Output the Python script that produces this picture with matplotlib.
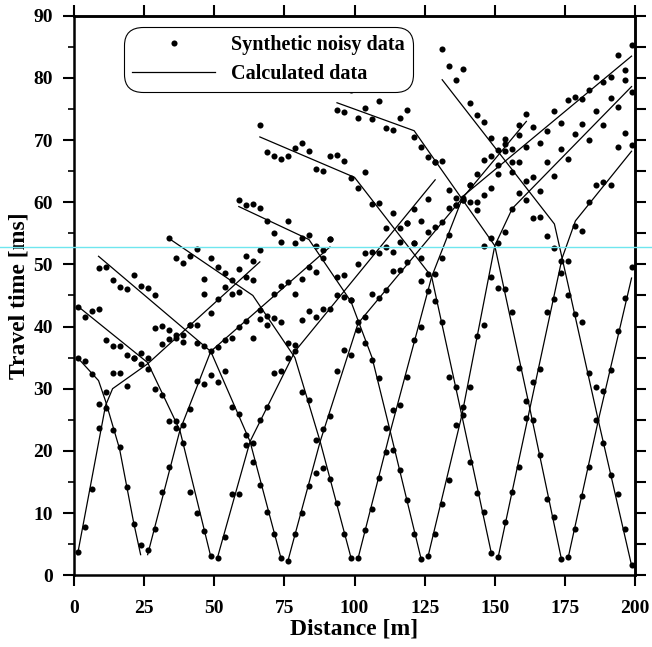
import numpy as np
import matplotlib
matplotlib.use('Agg')
import matplotlib.pyplot as plt
from matplotlib.lines import Line2D
from matplotlib.ticker import MultipleLocator, NullFormatter

plt.rcParams['font.family'] = ['Liberation Serif', 'DejaVu Serif']
plt.rcParams['font.weight'] = 'bold'
plt.rcParams['axes.labelweight'] = 'bold'

SPACING = 2.5  # geophone interval [m]

# picked first arrivals per shot branch: (first geophone [m], times [ms])
noisy_s000_fwd = (1.25, [3.8, 7.8, 13.9, 23.7, 29.4, 32.5, 32.5, 30.4, 34.9, 35.7, 33.2, 39.7, 37.2, 38.0,
                         38.1, 37.5, 40.3, 37.4, 45.3, 42.1, 44.4, 46.4, 45.2, 45.5, 51.3, 50.5, 52.3])
noisy_s025_rev = (1.25, [35.0, 34.4, 32.3, 27.6, 26.9, 23.3, 20.7, 14.2, 8.2, 4.8])
noisy_s025_fwd = (26.25, [4.0, 7.5, 13.4, 17.4, 23.6, 24.1, 26.8, 31.2, 30.7, 32.2, 36.7, 37.8, 38.1, 40.0,
                          40.9, 38.1, 42.6, 40.2, 45.2, 46.6, 47.2, 45.2, 47.7, 49.6, 48.8, 52.3, 54.1])
noisy_s050_rev = (1.25, [43.2, 41.6, 42.5, 42.8, 37.9, 36.9, 36.9, 35.4, 34.9, 34.0, 35.0, 29.9, 29.0, 24.8,
                         24.8, 21.2, 13.4, 10.0, 7.1, 3.1])
noisy_s050_fwd = (51.25, [2.8, 6.1, 13.0, 13.0, 20.9, 21.2, 24.9, 27.1, 32.6, 32.8, 37.4, 37.0, 41.0, 42.5,
                          41.6, 42.9, 42.9, 45.1, 44.8, 44.3, 50.0, 51.9, 52.0, 51.9, 52.8, 52.0, 55.9, 56.6,
                          58.9, 57.0, 60.5, 66.5])
noisy_s075_rev = (8.75, [49.4, 49.6, 47.5, 46.3, 46.0, 48.3, 46.5, 46.2, 45.1, 40.1, 39.4, 38.6, 38.6, 40.3,
                         40.3, 36.9, 36.1, 31.0, 32.8, 27.1, 26.0, 22.5, 18.2, 14.5, 10.1, 6.7, 2.8])
noisy_s075_fwd = (76.25, [2.3, 6.7, 10.0, 14.4, 16.5, 23.5, 25.6, 32.8, 36.2, 35.4, 40.8, 41.5, 45.3, 44.6,
                          45.9, 49.0, 49.1, 50.4, 53.5, 51.0, 55.2, 56.0, 56.8, 59.0, 59.5, 60.4, 62.8, 64.5,
                          61.2, 67.5, 66.0, 70.2, 68.5, 72.5, 74.2])
noisy_s100_rev = (33.75, [54.3, 51.0, 50.2, 51.4, 52.5, 47.7, 51.0, 49.5, 48.6, 47.5, 49.2, 47.9, 47.5, 41.2,
                          41.7, 41.3, 40.7, 35.0, 36.1, 29.5, 28.2, 21.7, 17.3, 15.5, 11.6, 6.7, 2.8])
noisy_s100_fwd = (101.25, [2.7, 7.2, 10.6, 15.7, 19.8, 26.6, 27.4, 31.9, 37.9, 39.9, 45.7, 48.4, 51.0, 54.8,
                           59.5, 60.6, 62.8, 60.0, 66.8, 62.3, 64.5, 68.2, 66.5, 70.8, 68.9, 72.1, 69.5, 71.5,
                           74.6, 72.8, 76.4, 77.0, 76.6, 78.1, 80.2, 79.4, 80.1, 83.7, 81.2, 85.3])
noisy_s125_rev = (58.75, [60.4, 59.5, 59.7, 59.1, 56.9, 55.0, 53.6, 57.0, 53.5, 54.2, 54.8, 53.0, 51.0, 54.1,
                          48.0, 48.3, 44.3, 39.5, 37.4, 34.6, 31.8, 23.7, 20.2, 17.0, 12.1, 6.7, 2.6])
noisy_s125_fwd = (126.25, [3.1, 6.7, 11.4, 15.3, 24.1, 25.8, 30.2, 38.4, 40.3, 47.9, 53.5, 55.2, 58.9, 61.5,
                           60.4, 64.0, 61.8, 66.5, 64.2, 68.6, 67.0, 70.9, 72.6, 70.0, 74.6, 72.5, 76.8, 75.3,
                           79.6, 77.8])
noisy_s150_rev = (66.25, [72.4, 68.0, 67.5, 67.0, 67.5, 68.7, 69.6, 68.3, 65.3, 65.0, 67.5, 67.6, 66.6, 63.9,
                          62.3, 64.9, 59.7, 59.8, 55.9, 58.2, 53.6, 56.6, 53.5, 47.3, 48.4, 44.1, 40.8, 31.9,
                          30.2, 27.1, 18.2, 13.3, 10.2, 3.6])
noisy_s150_fwd = (151.25, [3.0, 8.6, 13.4, 17.4, 25.3, 31.1, 33.2, 42.4, 44.5, 50.5, 50.6, 56.1, 55.3, 60.1,
                           62.8, 63.2, 62.8, 68.9, 71.1, 69.2])
noisy_s175_rev = (93.75, [74.8, 74.5, 78.0, 73.5, 75.1, 73.4, 76.3, 72.0, 71.6, 73.5, 74.8, 70.5, 68.9, 67.2,
                          66.5, 66.7, 62.0, 60.6, 60.4, 60.0, 58.7, 53.0, 54.2, 46.2, 46.0, 42.4, 33.4, 28.0,
                          24.9, 19.4, 12.2, 9.4, 2.6])
noisy_s175_fwd = (176.25, [3.0, 7.4, 12.8, 17.4, 24.9, 29.6, 33.0, 39.3, 44.6, 49.6])
noisy_s200_rev = (131.25, [84.6, 81.9, 79.7, 81.5, 75.9, 74.0, 72.9, 70.3, 68.4, 69.3, 64.9, 66.4, 63.4, 57.5,
                           57.7, 54.6, 52.6, 48.6, 45.0, 42.0, 40.8, 32.5, 30.3, 21.2, 16.1, 13.0, 7.5, 1.6])

# calculated travel times: polyline vertices (distance [m], time [ms])
calc_s000_fwd = ([1.25, 6.25, 11.25, 13.75, 26.25, 66.25], [3.3, 15.3, 27.3, 30.0, 34.0, 50.4])
calc_s025_rev = ([1.25, 8.75, 11.25, 16.25, 21.25, 23.75], [35.0, 31.3, 28.0, 20.3, 8.5, 3.3])
calc_s025_fwd = ([26.25, 37.75, 48.75, 91.25], [3.3, 23.3, 36.0, 52.8])
calc_s050_rev = ([1.25, 26.25, 37.75, 48.75], [43.3, 34.2, 23.3, 3.0])
calc_s050_fwd = ([51.25, 62.75, 78.75, 128.75], [3.0, 21.5, 36.0, 63.6])
calc_s075_rev = ([8.75, 48.75, 62.75, 73.75], [51.3, 36.0, 21.5, 2.8])
calc_s075_fwd = ([76.25, 87.75, 101.25, 161.25], [2.3, 21.5, 40.5, 73.0])
calc_s100_rev = ([33.75, 63.75, 78.75, 87.75, 98.75], [54.2, 45.0, 35.0, 21.5, 2.8])
calc_s100_fwd = ([101.25, 112.75, 127.5, 138.75, 198.75], [2.7, 23.1, 48.0, 61.0, 83.5])
calc_s125_rev = ([58.75, 83.75, 98.75, 106.25, 112.75, 123.75], [59.3, 54.0, 44.0, 35.0, 23.1, 2.6])
calc_s125_fwd = ([126.25, 138.25, 150.0, 156.25, 198.75], [3.1, 25.7, 53.0, 59.0, 78.6])
calc_s150_rev = ([66.25, 100.0, 127.5, 138.25, 148.75], [70.5, 64.0, 48.0, 25.7, 3.6])
calc_s150_fwd = ([151.25, 162.5, 174.0, 178.75, 198.75], [3.0, 26.8, 51.0, 57.0, 68.2])
calc_s175_rev = ([93.75, 121.25, 150.0, 162.5, 173.75], [76.0, 71.5, 53.0, 26.8, 2.6])
calc_s175_fwd = ([176.25, 186.9, 198.75], [3.0, 24.9, 47.8])
calc_s200_rev = ([131.25, 171.25, 176.25, 186.9, 198.75], [79.7, 56.5, 46.5, 24.9, 1.6])

noisy_branches = [noisy_s000_fwd, noisy_s025_rev, noisy_s025_fwd, noisy_s050_rev, noisy_s050_fwd,
                  noisy_s075_rev, noisy_s075_fwd, noisy_s100_rev, noisy_s100_fwd, noisy_s125_rev,
                  noisy_s125_fwd, noisy_s150_rev, noisy_s150_fwd, noisy_s175_rev, noisy_s175_fwd,
                  noisy_s200_rev]
calc_branches = [calc_s000_fwd, calc_s025_rev, calc_s025_fwd, calc_s050_rev, calc_s050_fwd,
                 calc_s075_rev, calc_s075_fwd, calc_s100_rev, calc_s100_fwd, calc_s125_rev,
                 calc_s125_fwd, calc_s150_rev, calc_s150_fwd, calc_s175_rev, calc_s175_fwd,
                 calc_s200_rev]

fig = plt.figure(figsize=(6.52, 6.47), dpi=100)
ax = fig.add_axes([0.1135, 0.111, 0.8605, 0.8647])

for xs, ts in calc_branches:
    ax.plot(xs, ts, color='black', lw=0.9)

for x0, ts in noisy_branches:
    xs = x0 + SPACING * np.arange(len(ts))
    ax.plot(xs, ts, 'o', color='black', ms=4.4, mec='none', clip_on=False)

ax.set_xlim(0, 200)
ax.set_ylim(0, 90)
ax.set_xticks(np.arange(0, 201, 25))
ax.set_yticks(np.arange(0, 91, 10))
ax.yaxis.set_minor_locator(MultipleLocator(5))
ax.tick_params(axis='both', which='major', direction='out', length=8, width=1.5,
               labelsize=14, top=False, right=False)
ax.tick_params(axis='x', which='major', pad=10)
ax.tick_params(axis='y', which='major', pad=7)
ax.tick_params(axis='y', which='minor', direction='out', length=4, width=1.2, right=False)
for sp in ax.spines.values():
    sp.set_linewidth(1.8)

# unlabeled ticks on the top and right frame
top = ax.secondary_xaxis('top')
top.xaxis.set_major_locator(MultipleLocator(25))
top.xaxis.set_major_formatter(NullFormatter())
top.tick_params(direction='out', length=8, width=1.5)
top.spines['top'].set_linewidth(1.8)
right = ax.secondary_yaxis('right')
right.yaxis.set_major_locator(MultipleLocator(5))
right.yaxis.set_major_formatter(NullFormatter())
right.tick_params(direction='out', length=8, width=1.5)
right.spines['right'].set_linewidth(1.8)

ax.set_xlabel('Distance [m]', fontsize=17, labelpad=1)
ax.set_ylabel('Travel time [ms]', fontsize=17, labelpad=3)

handles = [Line2D([], [], marker='o', ls='none', color='black', ms=4.4, mec='none'),
           Line2D([], [], color='black', lw=0.9)]
leg = ax.legend(handles, ['Synthetic noisy data', 'Calculated data'], loc='upper left',
                bbox_to_anchor=(0.097, 0.973), fontsize=14.5, frameon=True, fancybox=True,
                edgecolor='black', framealpha=1, handlelength=4.1, handletextpad=0.8,
                labelspacing=0.45, borderpad=0.2, borderaxespad=0)
leg.get_frame().set_linewidth(0.8)
leg.get_frame().set_boxstyle('round,pad=0.2,rounding_size=0.9')

fig.add_artist(Line2D([0, 1], [0.619, 0.619], transform=fig.transFigure,
                      color='#6fe6ef', lw=1.0, zorder=10))

fig.savefig('out.png', dpi=100)
